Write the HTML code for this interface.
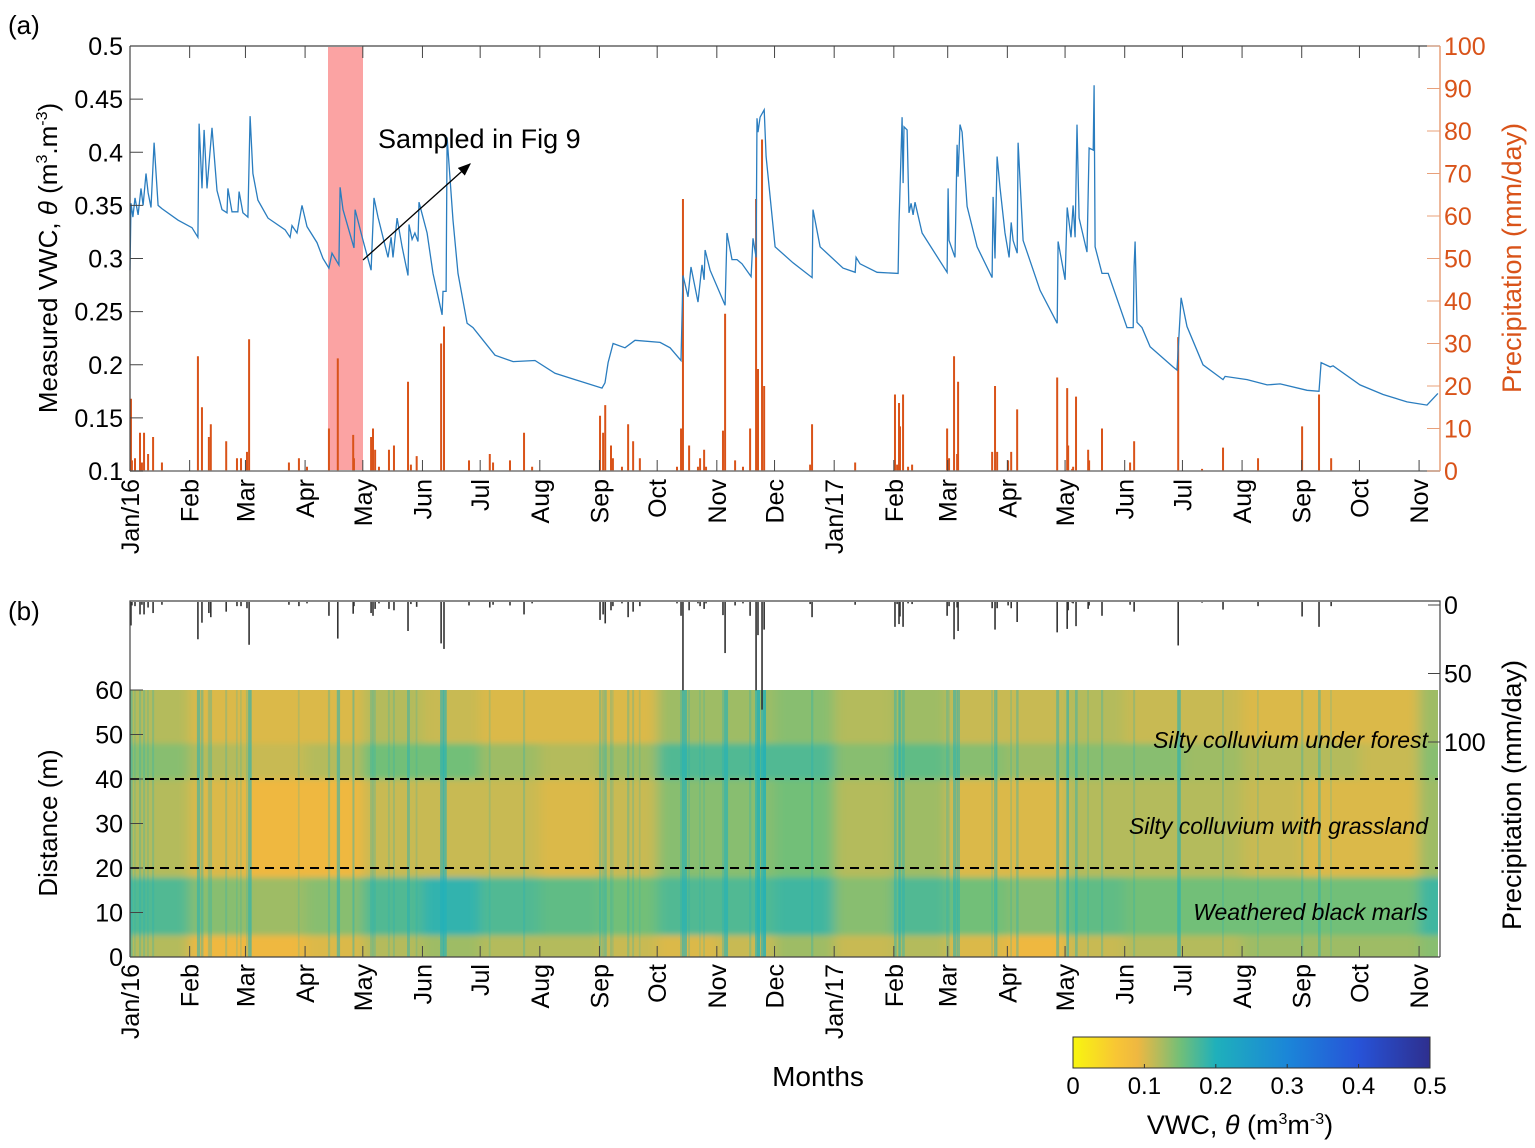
<!DOCTYPE html>
<html><head><meta charset="utf-8"><title>VWC chart</title>
<style>
html,body{margin:0;padding:0;background:#fff;}
svg{display:block;font-family:"Liberation Sans",sans-serif;}
</style></head>
<body>
<svg id="chart" width="1535" height="1148" viewBox="0 0 1535 1148" xmlns="http://www.w3.org/2000/svg">
<defs>
<linearGradient id="cbar" x1="0" x2="1" y1="0" y2="0">
<stop offset="0" stop-color="#f8f60f"/><stop offset="0.12" stop-color="#f8c634"/><stop offset="0.18" stop-color="#efb841"/>
<stop offset="0.24" stop-color="#b4bb5c"/><stop offset="0.3" stop-color="#72bf78"/><stop offset="0.4" stop-color="#1fb0bb"/>
<stop offset="0.6" stop-color="#1b86d8"/><stop offset="0.8" stop-color="#2753d8"/><stop offset="1" stop-color="#2e2f8e"/>
</linearGradient>
<clipPath id="hmclip"><rect x="130" y="690" width="1308" height="267"/></clipPath>
<filter id="soft" x="0" y="0" width="1" height="1"><feGaussianBlur stdDeviation="6 3"/></filter>
<marker id="arrowhead" markerWidth="10" markerHeight="8" refX="9" refY="4" orient="auto"><path d="M0,0 L10,4 L0,8 Z" fill="#000"/></marker>
</defs>
<g id="layer-a"></g>
<g id="layer-b"></g>
</svg>
<script>
// ---------- DATA ----------
const vwcDays = [0,0.5,1.5,2.6,4.2,5.7,6.8,8.3,9.4,10.9,12.5,14.6,16.6,25,32.2,35.3,35.9,37.4,38.5,40,42.6,45.2,47.8,50.4,50.9,53,56.1,56.7,58.7,61.3,62.4,63.9,66.5,71.7,80.6,83.2,84.2,86.8,89.4,92,97.2,100.3,103.4,105,106.6,108.6,109.2,110.7,116.4,117,121.1,125.3,126.8,128.9,131.5,134.1,135.7,136.7,138.8,141.4,144.5,145,146.6,148.1,149.7,150.2,154.4,157.5,162.2,162.7,164.3,164.8,167.9,170.5,175.2,178.3,189.7,199.1,210.5,220.9,231.3,245.3,246.9,248.5,251.1,257.3,262.5,275.5,280.7,286.4,287.4,290,291.6,295.2,297.3,298.4,298.9,301.5,309.3,310.3,312.9,315.5,318.1,322.8,323.8,325.4,325.9,326.4,327.5,329.6,330.6,335.3,344.6,354.5,355,358.7,370.6,376.9,377.4,379.4,388.3,399.2,399.7,401.3,401.8,402.3,403.9,404.9,406,407,408,411.7,424.7,425.2,425.7,428.8,429.9,430.4,431.4,432.5,435.1,440.3,448.1,448.6,449.6,450.7,452.2,454.8,456.9,458,459,461.1,461.6,464.2,473,481.9,482.4,486,487.1,489.1,490.2,491.2,492.2,493.3,497.4,498.5,500.6,501.1,501.6,505.2,508.4,518.2,521.4,521.9,522.4,523.4,526,530.2,542.1,544.2,546.3,549.4,557.7,568.1,569.2,580.6,591,597.8,611.8,618,619.1,623.8,625.3,639.3,651.3,663.7,674.1,679.8];
const vwcValues = [0.289,0.352,0.339,0.357,0.341,0.366,0.350,0.380,0.362,0.348,0.409,0.350,0.347,0.336,0.329,0.320,0.427,0.366,0.421,0.366,0.423,0.364,0.346,0.343,0.366,0.344,0.344,0.363,0.343,0.339,0.434,0.380,0.355,0.338,0.327,0.320,0.331,0.324,0.350,0.330,0.315,0.300,0.291,0.305,0.300,0.294,0.367,0.346,0.310,0.346,0.317,0.289,0.357,0.339,0.320,0.301,0.320,0.301,0.338,0.311,0.284,0.332,0.318,0.324,0.316,0.353,0.324,0.286,0.247,0.269,0.269,0.414,0.336,0.286,0.239,0.235,0.209,0.203,0.204,0.192,0.186,0.178,0.183,0.202,0.220,0.216,0.223,0.221,0.216,0.204,0.284,0.264,0.292,0.259,0.294,0.280,0.308,0.289,0.256,0.324,0.299,0.299,0.295,0.283,0.319,0.301,0.432,0.419,0.433,0.440,0.396,0.311,0.296,0.282,0.346,0.311,0.291,0.287,0.301,0.295,0.287,0.286,0.333,0.433,0.371,0.424,0.421,0.343,0.352,0.341,0.353,0.324,0.287,0.366,0.317,0.301,0.407,0.377,0.426,0.419,0.349,0.311,0.282,0.358,0.300,0.396,0.367,0.324,0.301,0.334,0.317,0.305,0.409,0.317,0.270,0.239,0.316,0.280,0.348,0.320,0.350,0.320,0.426,0.338,0.306,0.404,0.402,0.463,0.311,0.286,0.286,0.235,0.235,0.292,0.316,0.240,0.235,0.217,0.198,0.195,0.263,0.236,0.200,0.186,0.189,0.186,0.181,0.182,0.176,0.175,0.202,0.198,0.199,0.181,0.172,0.165,0.162,0.173];
const rainDays = [0.5,1,2.6,5.2,6.2,7.3,9.4,12,16.6,35.3,37.4,41,42,50,55.6,57.7,60.8,61.9,82.6,87.8,92,103.4,108,116,116.4,125.3,126.3,127.4,129.4,134.6,137.2,144.5,146,149,161.7,163.2,176.2,187,188.7,197.5,204.8,209,244.3,245.9,247,250,251,255.7,258.9,261.5,265,284.3,286.4,287.4,290.6,295.2,296.3,298.4,299.4,308.2,309.3,314.5,318.6,322.3,325.4,326.4,328.5,329.6,353.5,354.5,376.9,397.6,398.7,399.7,400.2,401.8,404.4,406.5,424.7,425.7,428.3,429.9,430.4,448.1,449.6,450.7,456.4,458,461.1,481.9,487.1,487.6,489.7,490.2,491.7,498,498.5,505.2,519.8,521.9,544.8,557.2,568.1,586.3,609.2,618,624.3];
const rainMm = [17,2.5,3,9,2,9,4,8,2,27,15,8,11,7,3,3,4.5,31,2,3,1,10,26.5,8.5,3,8,10,5,1,5,6,21,1.5,3.5,30,34,2.5,4,2,2.5,9,1,13,9,15.5,6,3,1,11,7,3,1,10,64,6,1,3,5,1,9.5,37,2.5,1,10,64,24,78,20,1.5,11,2,18,1.5,16,10.5,18,1,1.5,10,3,27,4,21,4.5,20,4.5,2.5,4.5,14.5,22,19.5,6,0.5,1,17.5,5,2.5,10,2,7,31.5,0.5,5.5,3,10.5,18,3];
const monthLabels = ["Jan/16","Feb","Mar","Apr","May","Jun","Jul","Aug","Sep","Oct","Nov","Dec","Jan/17","Feb","Mar","Apr","May","Jun","Jul","Aug","Sep","Oct","Nov"];
const vwcTicks = [0.1,0.15,0.2,0.25,0.3,0.35,0.4,0.45,0.5];
const rainTicks = [0,10,20,30,40,50,60,70,80,90,100];
const distTicks = [0,10,20,30,40,50,60];
const cbarTicks = [0,0.1,0.2,0.3,0.4,0.5];
// heatmap layers (depth bounds in m) and monthly mean VWC per layer
const layerBounds = [0,5,18,40,48,60];
const hmRow0 = [0.12,0.09,0.09,0.10,0.12,0.13,0.12,0.12,0.11,0.10,0.11,0.13,0.11,0.12,0.10,0.09,0.11,0.12,0.12,0.13,0.13,0.13,0.14];
const hmRow1 = [0.17,0.14,0.13,0.14,0.17,0.19,0.17,0.16,0.15,0.17,0.17,0.18,0.14,0.17,0.15,0.14,0.16,0.15,0.15,0.15,0.15,0.15,0.18];
const hmRow2 = [0.12,0.10,0.09,0.09,0.11,0.11,0.11,0.10,0.11,0.14,0.14,0.15,0.12,0.13,0.10,0.10,0.12,0.12,0.12,0.11,0.10,0.10,0.13];
const hmRow3 = [0.14,0.12,0.11,0.12,0.15,0.15,0.13,0.12,0.13,0.17,0.17,0.17,0.14,0.16,0.14,0.13,0.14,0.14,0.13,0.12,0.12,0.11,0.14];
const hmRow4 = [0.12,0.10,0.10,0.10,0.12,0.11,0.10,0.10,0.10,0.13,0.13,0.14,0.12,0.13,0.11,0.11,0.12,0.11,0.11,0.10,0.10,0.10,0.13];
const hmRows = [hmRow0,hmRow1,hmRow2,hmRow3,hmRow4];
const endDay = 681;

// ---------- SCALES ----------
const NS = "http://www.w3.org/2000/svg";
const X0 = 130, PXD = 1.924;
const xDay = d => X0 + d*PXD;
const dayOfMonth = i => Math.round((Date.UTC(2016, i, 1) - Date.UTC(2016,0,1))/86400000);
const yVwc = v => 471 - (v-0.1)*1062.5;
const yRainA = mm => 471 - mm*4.25;
const yDist = m => 957 - m*4.45;
const cmap = [[0,[248,246,15]],[0.06,[248,198,52]],[0.09,[239,184,65]],[0.12,[180,187,92]],[0.15,[114,191,120]],[0.2,[31,176,187]],[0.3,[27,134,216]],[0.4,[39,83,216]],[0.5,[46,47,142]]];
function colorOf(v){
  for(let i=0;i<cmap.length-1;i++){
    const [a,ca]=cmap[i],[b,cb]=cmap[i+1];
    if(v<=b){const t=Math.max(0,(v-a)/(b-a));return "rgb("+ca.map((c,k)=>Math.round(c+(cb[k]-c)*t)).join(",")+")";}
  }
  return "rgb(46,47,142)";
}
function el(tag, attrs, parent, text){
  const e=document.createElementNS(NS,tag);
  for(const k in attrs) e.setAttribute(k,attrs[k]);
  if(text!==undefined) e.textContent=text;
  parent.appendChild(e); return e;
}
const A = document.getElementById("layer-a");
const B = document.getElementById("layer-b");

// ---------- PANEL A ----------
let t = el("text",{x:8,y:34,"font-size":26},A,"(a)");



let hl = el("rect",{x:328,y:47,width:35,height:423,fill:"#fba3a3"},A);



rainDays.forEach((d,i)=>{
  const b = el("rect",{x:xDay(d)-1,y:yRainA(rainMm[i]),width:2,height:rainMm[i]*4.25,fill:"#d95319"},A);
  
  
});
let pts = vwcDays.map((d,i)=>xDay(d).toFixed(1)+","+yVwc(vwcValues[i]).toFixed(1)).join(" ");
let line = el("polyline",{points:pts,fill:"none",stroke:"#2a7dbf","stroke-width":1.3},A);



let ax = el("path",{d:"M130,46 H1440 M130,46 V471",stroke:"#444",fill:"none","stroke-width":1.2},A);


let axb = el("line",{x1:130,y1:471,x2:1440,y2:471,stroke:"#777","stroke-width":1.5},A);


let axr = el("line",{x1:1440,y1:46,x2:1440,y2:471,stroke:"#e8a07a","stroke-width":1.5},A);



vwcTicks.forEach(v=>{
  const y=yVwc(v);
  el("line",{x1:130,y1:y,x2:143,y2:y,stroke:"#444"},A);
  const tl=el("text",{x:123,y:y+9,"font-size":25,"text-anchor":"end"},A,String(v));
  
  
});
rainTicks.forEach(v=>{
  const y=yRainA(v);
  el("line",{x1:1427,y1:y,x2:1440,y2:y,stroke:"#e8a07a"},A);
  const tl=el("text",{x:1444,y:y+9,"font-size":25,fill:"#d95319"},A,String(v));
  
  
});
monthLabels.forEach((m,i)=>{
  const x=xDay(dayOfMonth(i));
  el("line",{x1:x,y1:46,x2:x,y2:58,stroke:"#444"},A);
  el("line",{x1:x,y1:471,x2:x,y2:460,stroke:"#444"},A);
  const tl=el("text",{x:0,y:0,"font-size":25,"text-anchor":"end",transform:`translate(${x+9},479) rotate(-90)`},A,m);
  
  
});
let yl = el("text",{"font-size":26,"text-anchor":"middle",transform:"translate(57,258) rotate(-90)"},A);
yl.innerHTML='Measured VWC, <tspan font-style="italic">θ</tspan> (m<tspan font-size="16" dy="-10">3</tspan><tspan dy="10">.m</tspan><tspan font-size="16" dy="-10">-3</tspan><tspan dy="10">)</tspan>';


let yr = el("text",{"font-size":27,"text-anchor":"middle",fill:"#d95319",transform:"translate(1521,258) rotate(-90)"},A,"Precipitation (mm/day)");


let ann = el("text",{x:378,y:148,"font-size":27},A,"Sampled in Fig 9");


let arr = el("line",{x1:363,y1:260,x2:470,y2:164,stroke:"#000","stroke-width":1.3,"marker-end":"url(#arrowhead)"},A);



// ---------- PANEL B ----------
t = el("text",{x:8,y:620,"font-size":26},B,"(b)");



const hm = el("g",{"clip-path":"url(#hmclip)"},B);


const hmInner = el("g",{filter:"url(#soft)"},hm);
el("rect",{x:120,y:680,width:1330,height:290,fill:colorOf(0.12)},hmInner);
for(let i=0;i<monthLabels.length;i++){
  const d0=dayOfMonth(i), d1=(i<monthLabels.length-1)?dayOfMonth(i+1):endDay;
  hmRows.forEach((row,r)=>{
    const c=el("rect",{x:xDay(d0)-(i===0?10:0),y:yDist(layerBounds[r+1])-(r===4?10:0),width:(d1-d0)*PXD+(i===0||i===monthLabels.length-1?10:0.5),height:(layerBounds[r+1]-layerBounds[r])*4.45+(r===4||r===0?10:0.5),fill:colorOf(row[i])},hmInner);
    
    
  });
}
rainDays.forEach((d,i)=>{
  if(rainMm[i]<3) return;
  const s=el("rect",{x:xDay(d)-1,y:690,width:Math.min(5,1.5+rainMm[i]/15),height:267,fill:"#1fb0bb",opacity:Math.min(0.6,0.15+rainMm[i]/70)},hm);
  
  
});

rainDays.forEach((d,i)=>{
  const b=el("rect",{x:xDay(d)-0.8,y:602,width:1.6,height:rainMm[i]*1.38,fill:"#333"},B);
  
  
});
let fb = el("path",{d:"M130,690 V601 H1440 V957 M130,957 H1440",stroke:"#444",fill:"none","stroke-width":1.2},B);


el("line",{x1:130,y1:690,x2:130,y2:957,stroke:"#444","stroke-width":1.2},B);
[40,20].forEach(m=>{
  const dl=el("line",{x1:130,y1:yDist(m),x2:1438,y2:yDist(m),stroke:"#000","stroke-width":2,"stroke-dasharray":"9,6"},B);
  
  
});
distTicks.forEach(v=>{
  const y=yDist(v);
  el("line",{x1:130,y1:y,x2:143,y2:y,stroke:"#444"},B);
  const tl=el("text",{x:123,y:y+9,"font-size":25,"text-anchor":"end"},B,String(v));
  
  
});
[0,50,100].forEach(v=>{
  const y=605+v*1.37;
  el("line",{x1:1428,y1:y,x2:1440,y2:y,stroke:"#444"},B);
  const tl=el("text",{x:1444,y:y+9,"font-size":25},B,String(v));
  
  
});
monthLabels.forEach((m,i)=>{
  const x=xDay(dayOfMonth(i));
  el("line",{x1:x,y1:957,x2:x,y2:946,stroke:"#444"},B);
  const tl=el("text",{x:0,y:0,"font-size":25,"text-anchor":"end",transform:`translate(${x+9},964) rotate(-90)`},B,m);
  
  
});
[["Silty colluvium under forest",748],["Silty colluvium with grassland",834],["Weathered black marls",920]].forEach(([s,y])=>{
  const tl=el("text",{x:1428,y:y,"font-size":23,"font-style":"italic","text-anchor":"end"},B,s);
  
  
});
let dy = el("text",{"font-size":26,"text-anchor":"middle",transform:"translate(57,823) rotate(-90)"},B,"Distance (m)");


let py = el("text",{"font-size":27,"text-anchor":"middle",transform:"translate(1521,795) rotate(-90)"},B,"Precipitation (mm/day)");


let mx = el("text",{x:818,y:1086,"font-size":28,"text-anchor":"middle"},B,"Months");



let cb = el("rect",{x:1073,y:1037,width:357,height:31,fill:"url(#cbar)",stroke:"#333","stroke-width":1},B);


cbarTicks.forEach(v=>{
  const x=1073+v/0.5*357;
  el("line",{x1:x,y1:1068,x2:x,y2:1064,stroke:"#333"},B);
  const tl=el("text",{x:x,y:1094,"font-size":24,"text-anchor":"middle"},B,String(v));
  
  
});
let ct = el("text",{x:1240,y:1134,"font-size":27,"text-anchor":"middle"},B);
ct.innerHTML='VWC, <tspan font-style="italic">θ</tspan> (m<tspan font-size="16" dy="-10">3</tspan><tspan dy="10">m</tspan><tspan font-size="16" dy="-10">-3</tspan><tspan dy="10">)</tspan>';


</script>
</body></html>
